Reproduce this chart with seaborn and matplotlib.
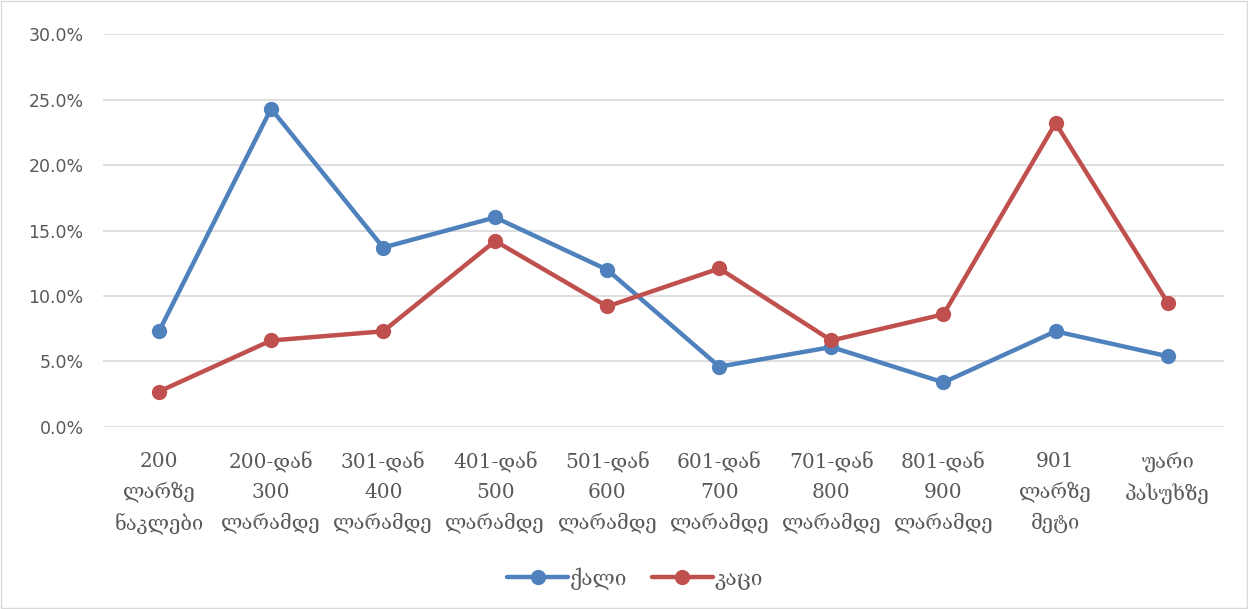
import pandas as pd
import numpy as np
import matplotlib.pyplot as plt
import seaborn as sns
from matplotlib.ticker import PercentFormatter

sns.set_style("white")

# categories (x axis)
categories = ["200\nლარზე\nნაკლები", "200-დან\n300\nლარამდე", "301-დან\n400\nლარამდე",
              "401-დან\n500\nლარამდე", "501-დან\n600\nლარამდე", "601-დან\n700\nლარამდე",
              "701-დან\n800\nლარამდე", "801-დან\n900\nლარამდე", "901\nლარზე\nმეტი",
              "უარი\nპასუხზე"]
# values in %
women = [7.3, 24.3, 13.7, 16.0, 12.0, 4.6, 6.1, 3.4, 7.3, 5.4]
men = [2.7, 6.6, 7.3, 14.2, 9.2, 12.1, 6.6, 8.6, 23.2, 9.5]
series_names = ["ქალი", "კაცი"]

df = pd.DataFrame({"pos": list(range(len(categories))) * 2,
                   "value": women + men,
                   "sex": [series_names[0]] * len(women) + [series_names[1]] * len(men)})

fig = plt.figure(figsize=(12.48, 6.09), dpi=100)
ax = fig.add_axes([0.0825, 0.299, 0.898, 0.645])
sns.lineplot(data=df, x="pos", y="value", hue="sex", palette=["#4F81BD", "#C0504D"],
             marker="o", markersize=11, markeredgewidth=0, linewidth=3.2, ax=ax)

ax.set_xlim(-0.5, len(categories) - 0.5)
ax.set_ylim(0, 30)
ax.set_yticks(np.arange(0, 31, 5))
ax.yaxis.set_major_formatter(PercentFormatter(decimals=1))
ax.set_xticks(range(len(categories)))
ax.set_xticklabels(categories, family="DejaVu Serif", fontsize=14.5, color="#595959",
                   linespacing=1.65)
ax.tick_params(axis="y", labelsize=12.5, labelcolor="#595959", length=0, pad=14)
ax.tick_params(axis="x", length=0, pad=18)
ax.grid(axis="y", color="#d9d9d9", linewidth=1.2)
for s in ax.spines.values():
    s.set_visible(False)
ax.set_xlabel("")
ax.set_ylabel("")

# legend centred on the whole chart, like the original
handles, labels = ax.get_legend_handles_labels()
ax.get_legend().remove()
leg = fig.legend(handles, labels, loc="center", bbox_to_anchor=(0.509, 0.05), ncol=2,
                 frameon=False, handlelength=2.9, columnspacing=1.2, handletextpad=0.1,
                 prop={"family": "DejaVu Serif", "size": 15})
for t in leg.get_texts():
    t.set_color("#595959")

fig.patches.append(plt.Rectangle((0.001, 0.002), 0.998, 0.996, transform=fig.transFigure,
                                 fill=False, edgecolor="#d9d9d9", linewidth=1))
fig.savefig("out.png", dpi=100)
